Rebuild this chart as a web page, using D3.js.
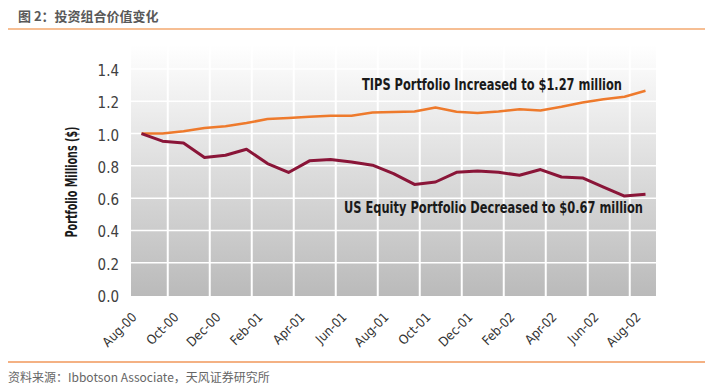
<!DOCTYPE html>
<html>
<head>
<meta charset="utf-8">
<script src="https://cdn.jsdelivr.net/npm/d3@7"></script>
<style>
  body { margin: 0; background: #fff; }
  svg { display: block; }
  .narrow { font-family: 'Liberation Sans Narrow', 'Arial Narrow', 'DejaVu Sans Condensed', sans-serif; }
  .cjk { font-family: 'Noto Sans CJK SC', sans-serif; }
</style>
</head>
<body>
<div id="chart"></div>
<script>
// monthly values, Aug-00 .. Aug-02
var months = ['Aug-00','Sep-00','Oct-00','Nov-00','Dec-00','Jan-01','Feb-01','Mar-01','Apr-01','May-01','Jun-01','Jul-01',
              'Aug-01','Sep-01','Oct-01','Nov-01','Dec-01','Jan-02','Feb-02','Mar-02','Apr-02','May-02','Jun-02','Jul-02','Aug-02'];
var tips = [1.00, 1.00, 1.015, 1.035, 1.045, 1.065, 1.09, 1.097, 1.104, 1.11, 1.11, 1.13,
            1.134, 1.137, 1.162, 1.135, 1.128, 1.137, 1.151, 1.143, 1.166, 1.193, 1.212, 1.228, 1.265];
var equity = [1.00, 0.953, 0.942, 0.852, 0.866, 0.903, 0.814, 0.759, 0.831, 0.839, 0.824, 0.804,
              0.752, 0.685, 0.70, 0.76, 0.768, 0.76, 0.742, 0.777, 0.731, 0.725, 0.669, 0.613, 0.624];
var yTicks = [0, 0.2, 0.4, 0.6, 0.8, 1.0, 1.2, 1.4];
var gridPos = [1.25, 3.25, 5.25, 7.25, 9.25, 11.25, 13.25, 15.25, 17.25, 19.25, 21.25, 23.25];

var W = 712, H = 389;
var plotL = 131, plotR = 656, plotT = 45, plotB = 295;

var svg = d3.select('#chart').append('svg').attr('width', W).attr('height', H);

var x = d3.scaleLinear().domain([-0.5, 24.5]).range([plotL, plotR]);
var y = d3.scaleLinear().domain([0, 1.4]).range([plotB, 69]);

// header
svg.append('text').attr('class', 'cjk').attr('x', 18).attr('y', 21)
    .attr('font-size', 13).attr('font-weight', 'bold').attr('fill', '#595959')
    .text('图 2：投资组合价值变化');
svg.append('line').attr('x1', 8).attr('x2', 705).attr('y1', 29).attr('y2', 29)
    .attr('stroke', '#F6BE93').attr('stroke-width', 2);

// plot background gradient
var grad = svg.append('defs').append('linearGradient').attr('id', 'bg')
    .attr('x1', 0).attr('x2', 0).attr('y1', 0).attr('y2', 1);
grad.append('stop').attr('offset', '0%').attr('stop-color', '#ffffff');
grad.append('stop').attr('offset', '100%').attr('stop-color', '#bababa');
svg.append('rect').attr('x', plotL).attr('y', plotT)
    .attr('width', plotR - plotL).attr('height', plotB - plotT + 1)
    .attr('fill', 'url(#bg)');

// grid
svg.selectAll('.hgrid').data(yTicks.slice(1)).enter().append('line')
    .attr('x1', plotL).attr('x2', plotR)
    .attr('y1', function(d) { return y(d); }).attr('y2', function(d) { return y(d); })
    .attr('stroke', '#fff').attr('stroke-width', 1.5);
svg.selectAll('.vgrid').data(gridPos).enter().append('line')
    .attr('x1', function(d) { return x(d); }).attr('x2', function(d) { return x(d); })
    .attr('y1', plotT).attr('y2', plotB + 1)
    .attr('stroke', '#fff').attr('stroke-width', 2);

// y tick labels
svg.selectAll('.ylab').data(yTicks).enter().append('text').attr('class', 'narrow')
    .attr('x', 119).attr('y', function(d) { return y(d) + 7; })
    .attr('text-anchor', 'end').attr('font-size', 15).attr('fill', '#404040')
    .text(function(d) { return d3.format('.1f')(d); });

// y axis title
svg.append('text').attr('class', 'narrow')
    .attr('transform', 'translate(77,182) rotate(-90)')
    .attr('text-anchor', 'middle').attr('font-size', 15).attr('font-weight', 'bold')
    .attr('fill', '#1a1a1a').attr('textLength', 111).attr('lengthAdjust', 'spacingAndGlyphs')
    .text('Portfolio Millions ($)');

// x labels, every other month
var shown = months.map(function(m, i) { return { m: m, i: i }; }).filter(function(d) { return d.i % 2 === 0; });
svg.selectAll('.xlab').data(shown).enter().append('text').attr('class', 'narrow')
    .attr('transform', function(d) { return 'translate(' + (x(d.i) - 4) + ',318) rotate(-45)'; })
    .attr('text-anchor', 'end').attr('font-size', 13).attr('fill', '#333')
    .text(function(d) { return d.m; });

// lines
var line = d3.line().x(function(d, i) { return x(i); }).y(function(d) { return y(d); });
svg.append('path').datum(tips).attr('d', line).attr('fill', 'none')
    .attr('stroke', '#EE7A2C').attr('stroke-width', 2.5).attr('stroke-linejoin', 'round');
svg.append('path').datum(equity).attr('d', line).attr('fill', 'none')
    .attr('stroke', '#8A1538').attr('stroke-width', 3).attr('stroke-linejoin', 'round');

// annotations
svg.append('text').attr('class', 'narrow').attr('x', 362).attr('y', 90)
    .attr('font-size', 15).attr('font-weight', 'bold').attr('fill', '#1a1a1a')
    .attr('textLength', 260).attr('lengthAdjust', 'spacingAndGlyphs')
    .text('TIPS Portfolio Increased to $1.27 million');
svg.append('text').attr('class', 'narrow').attr('x', 344).attr('y', 213)
    .attr('font-size', 15).attr('font-weight', 'bold').attr('fill', '#1a1a1a')
    .attr('textLength', 299).attr('lengthAdjust', 'spacingAndGlyphs')
    .text('US Equity Portfolio Decreased to $0.67 million');

// footer
svg.append('line').attr('x1', 8).attr('x2', 705).attr('y1', 362).attr('y2', 362)
    .attr('stroke', '#F4B183').attr('stroke-width', 2);
svg.append('text').attr('class', 'cjk').attr('x', 8).attr('y', 382)
    .attr('font-size', 12).attr('fill', '#666')
    .text('资料来源：Ibbotson Associate，天风证券研究所');
</script>
</body>
</html>
